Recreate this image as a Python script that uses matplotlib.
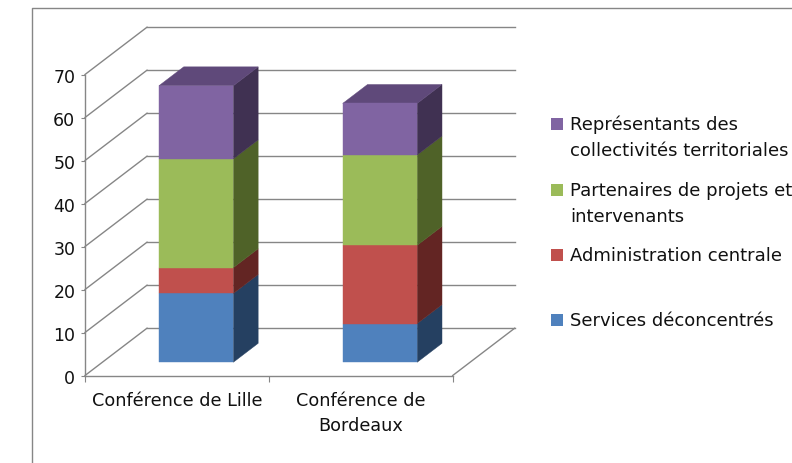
import numpy as np
import matplotlib
matplotlib.use("Agg")
import matplotlib.pyplot as plt
from matplotlib.patches import Polygon, Rectangle
from matplotlib.transforms import ScaledTranslation

plt.rcParams['font.family'] = ['DejaVu Sans']

categories = ["Conférence de Lille", "Conférence de\nBordeaux"]
series_names = ["Services déconcentrés", "Administration centrale",
                "Partenaires de projets et\nintervenants",
                "Représentants des\ncollectivités territoriales"]
services = [16, 9]
administration = [6, 18.2]
partenaires = [25.3, 21]
representants = [17, 12]
yticks = [0, 10, 20, 30, 40, 50, 60, 70]

front_colors = ["#4F81BD", "#C0504D", "#9BBB59", "#8064A2"]
side_colors = ["#254061", "#632523", "#4F6228", "#403152"]
top_color = "#5F497A"
grid_color = "#868686"
text_color = "#111111"

W, H = 792, 463
fig = plt.figure(figsize=(W / 100, H / 100), dpi=100)

# axes calees sur le plan avant du graphique
ax = fig.add_axes([85 / W, 1 - 375.5 / H, (452.7 - 85) / W, 301 / H])
ax.set_xlim(0, 2)
ax.set_ylim(0, 70)
ax.patch.set_visible(False)

# decalage de la profondeur, en unites de donnees
depth_x = 62 / 183.85
depth_y = 11.0
bar_width = 0.405
bar_d0, bar_d1 = 0.28, 0.68
centers = [0.51, 1.51]


def proj(x, y, d):
    return (x + d * depth_x, y + d * depth_y)


# parois
for v in yticks:
    ax.plot([0, depth_x], [v, v + depth_y], color=grid_color, lw=1, clip_on=False, zorder=1)
    ax.plot([depth_x, 2 + depth_x], [v + depth_y, v + depth_y], color=grid_color, lw=1,
            clip_on=False, zorder=1)
ax.plot([2, 2 + depth_x], [0, depth_y], color=grid_color, lw=1, clip_on=False, zorder=1)

# barres empilees
stacks = [services, administration, partenaires, representants]
for i, cx in enumerate(centers):
    x0 = cx - bar_width / 2
    x1 = cx + bar_width / 2
    bottom = 0
    for k, values in enumerate(stacks):
        top = bottom + values[i]
        front = [proj(x0, bottom, bar_d0), proj(x1, bottom, bar_d0),
                 proj(x1, top, bar_d0), proj(x0, top, bar_d0)]
        side = [proj(x1, bottom, bar_d0), proj(x1, bottom, bar_d1),
                proj(x1, top, bar_d1), proj(x1, top, bar_d0)]
        ax.add_patch(Polygon(side, closed=True, fc=side_colors[k], ec=side_colors[k], lw=0.3,
                             clip_on=False, zorder=3))
        ax.add_patch(Polygon(front, closed=True, fc=front_colors[k], ec=front_colors[k], lw=0.3,
                             clip_on=False, zorder=4))
        if k == len(stacks) - 1:
            cap = [proj(x0, top, bar_d0), proj(x1, top, bar_d0),
                   proj(x1, top, bar_d1), proj(x0, top, bar_d1)]
            ax.add_patch(Polygon(cap, closed=True, fc=top_color, ec=top_color, lw=0.3,
                                 clip_on=False, zorder=3))
        bottom = top

# axes
for s in ('top', 'right'):
    ax.spines[s].set_visible(False)
for s in ('left', 'bottom'):
    ax.spines[s].set_color(grid_color)
    ax.spines[s].set_linewidth(1)
ax.set_yticks(yticks)
ax.set_xticks([0, 1, 2])
ax.set_xticklabels([])
ax.set_xticks([0.5, 1.5], minor=True)
ax.set_xticklabels(categories, minor=True, fontsize=12.7, color=text_color, linespacing=1.52)
ax.tick_params(axis='y', labelsize=12.5, labelcolor=text_color, color=grid_color, length=3, pad=4)
ax.tick_params(axis='x', which='major', color=grid_color, length=4)
ax.tick_params(axis='x', which='minor', length=0, pad=12)
# les chiffres sont un peu plus bas que les graduations
for lab in ax.get_yticklabels():
    lab.set_transform(lab.get_transform() + ScaledTranslation(0, -1.5 / 100, fig.dpi_scale_trans))

# calque en pixels pour le cadre et la legende
over = fig.add_axes([0, 0, 1, 1], zorder=5)
over.set_xlim(0, W)
over.set_ylim(H, 0)
over.axis('off')
over.plot([32, 32, W], [H, 8, 8], color=grid_color, lw=1)

legend_y = [320, 255, 190, 124]
for name, color, y in zip(series_names, front_colors, legend_y):
    over.add_patch(Rectangle((551, y - 6), 12, 12, fc=color, ec='none'))
    for j, line in enumerate(name.split("\n")):
        over.text(570, y + 1 + j * 26, line, fontsize=13, color=text_color, va='center', ha='left')

plt.savefig("out.png", dpi=100)
